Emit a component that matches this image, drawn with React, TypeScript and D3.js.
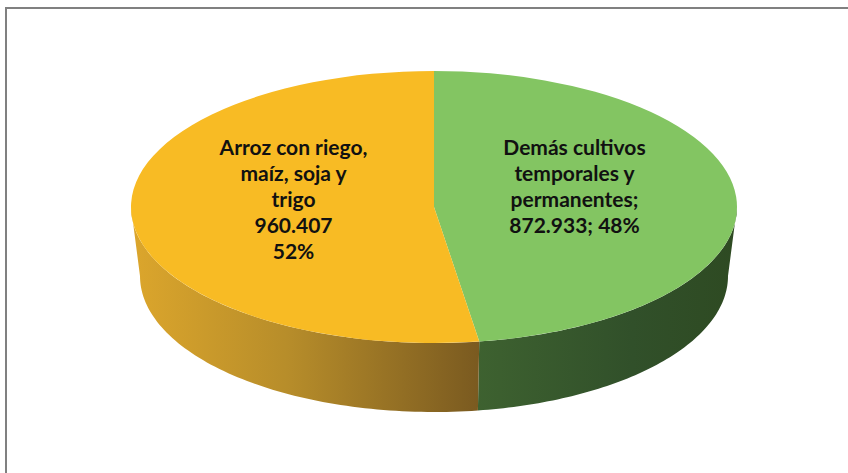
import React from "react";
import * as d3 from "d3";

const categories = ["Demás cultivos temporales y permanentes", "Arroz con riego, maíz, soja y trigo"];
const values = [872933, 960407];
const labelLines = [
  ["Demás cultivos", "temporales y", "permanentes;"],
  ["Arroz con riego,", "maíz, soja y", "trigo"],
];
const topColors = ["#83C562", "#F8BB24"];

const W = 848, H = 473;
const CX = 434, TCY = 207, TRX = 303, TRY = 136;
const BCY = 276, BRX = 294, BRY = 136;

const fmt = d3.formatLocale({ decimal: ",", thousands: ".", grouping: [3], currency: ["", ""] }).format(",d");

function topPt(a: number): [number, number] {
  return [CX + TRX * Math.sin(a), TCY - TRY * Math.cos(a)];
}
function botPt(a: number): [number, number] {
  return [CX + BRX * Math.sin(a), BCY - BRY * Math.cos(a)];
}

export default function App() {
  const total = d3.sum(values);
  const pie = d3.pie<number>().sort(null).value((d) => d)(values);

  const slices = pie.map((p, i) => {
    const [x0, y0] = topPt(p.startAngle);
    const [x1, y1] = topPt(p.endAngle);
    const large = p.endAngle - p.startAngle > Math.PI ? 1 : 0;
    const top = `M${CX},${TCY}L${x0},${y0}A${TRX},${TRY} 0 ${large} 1 ${x1},${y1}Z`;
    const s = Math.max(p.startAngle, Math.PI / 2);
    const e = Math.min(p.endAngle, (3 * Math.PI) / 2);
    let wall = "";
    if (e > s) {
      const n = 80;
      const angs = d3.range(n + 1).map((k) => s + ((e - s) * k) / n);
      const pts = angs.map(topPt).concat(angs.slice().reverse().map(botPt));
      wall = (d3.line()(pts as [number, number][]) || "") + "Z";
    }
    const pct = Math.round((values[i] / total) * 100);
    return { p, i, top, wall, pct };
  });

  const split = topPt(pie[0].endAngle)[0];

  return (
    <svg width={W} height={H} style={{ position: "absolute", left: 0, top: 0, background: "#fff" }}>
      <defs>
        <linearGradient id="gWall" gradientUnits="userSpaceOnUse" x1={CX + 40} y1={0} x2={CX + TRX} y2={0}>
          <stop offset="0" stopColor="#3E6230" />
          <stop offset="0.6" stopColor="#31502A" />
          <stop offset="1" stopColor="#2E4A22" />
        </linearGradient>
        <linearGradient id="yWall" gradientUnits="userSpaceOnUse" x1={CX - TRX} y1={0} x2={split} y2={0}>
          <stop offset="0" stopColor="#DCA62C" />
          <stop offset="0.45" stopColor="#B78D2A" />
          <stop offset="1" stopColor="#7A5A20" />
        </linearGradient>
      </defs>
      <rect x={0} y={0} width={W} height={H} fill="#fff" />
      <line x1={6} y1={8} x2={W} y2={8} stroke="#808080" strokeWidth={2} />
      <line x1={6} y1={7} x2={6} y2={H} stroke="#808080" strokeWidth={2} />
      {slices.map((s) =>
        s.wall ? <path key={"w" + s.i} d={s.wall} fill={s.i === 0 ? "url(#gWall)" : "url(#yWall)"} /> : null
      )}
      {slices.map((s) => (
        <path key={"t" + s.i} d={s.top} fill={topColors[s.i]} />
      ))}
      {slices.map((s) => {
        const mid = (s.p.startAngle + s.p.endAngle) / 2;
        const f = 0.465;
        const x = CX + TRX * f * Math.sin(mid);
        const lines =
          s.i === 0
            ? [...labelLines[0], `${fmt(values[0])}; ${s.pct}%`]
            : [...labelLines[1], fmt(values[1]), `${s.pct}%`];
        const lh = 26;
        const y0 = TCY - 59;
        return (
          <text
            key={"l" + s.i}
            textAnchor="middle"
            fontFamily="Lato, 'Open Sans', sans-serif"
            fontWeight="bold"
            fontSize={21}
            fill="#111"
          >
            {lines.map((ln, k) => (
              <tspan key={k} x={x} y={y0 + k * lh} dy="0.35em">
                {ln}
              </tspan>
            ))}
          </text>
        );
      })}
    </svg>
  );
}
